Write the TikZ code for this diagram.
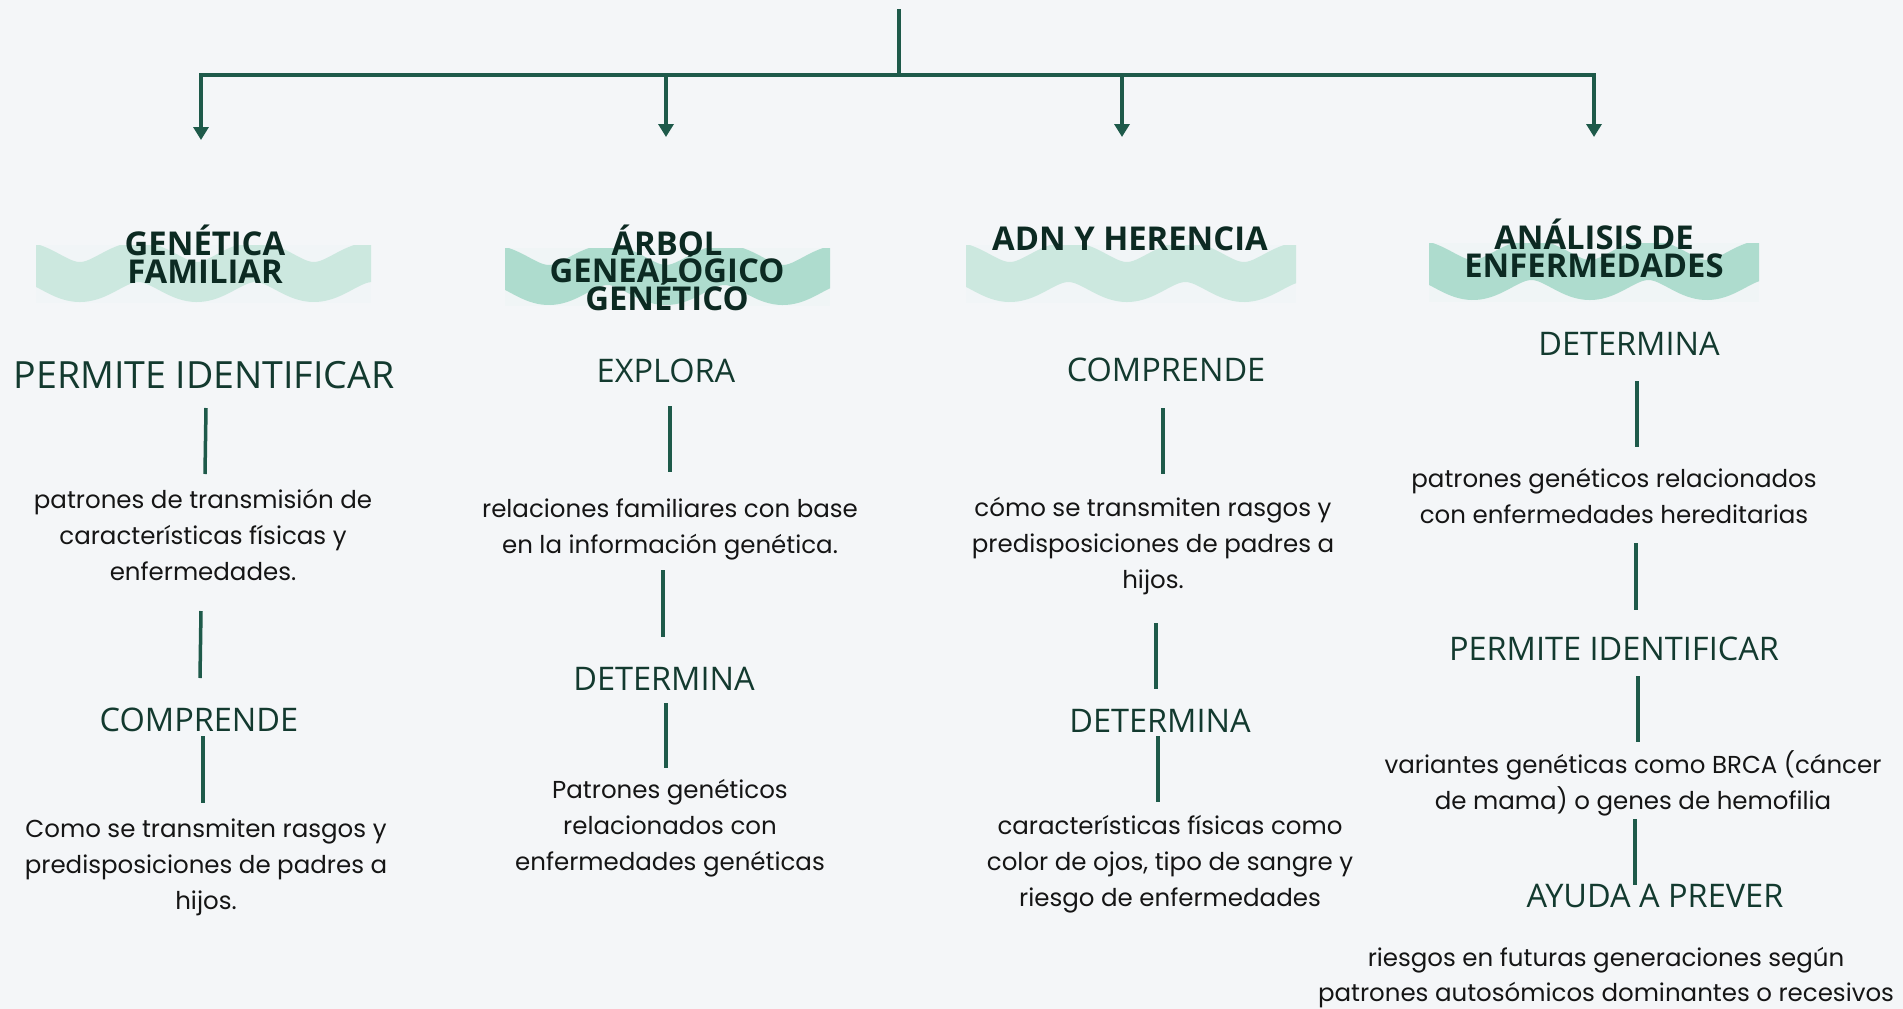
\documentclass[tikz,border=0pt]{standalone}
\usepackage{fontspec}
\setmainfont{Poppins}
\newfontfamily\osans{Open Sans}
\usetikzlibrary{arrows.meta}
\definecolor{bg}{HTML}{F4F6F8}
\definecolor{lnc}{HTML}{1E5A4A}
\definecolor{labc}{HTML}{133A2F}
\definecolor{hdc}{HTML}{0C2A22}
\definecolor{bodyc}{HTML}{151515}
\definecolor{wlight}{HTML}{CCE8DF}
\definecolor{wdark}{HTML}{AEDCCE}
\lineskiplimit=-100pt
\newcommand\wavebanner[5]{%
  \begin{scope}
    \clip (#1,#2) rectangle (#3,#4);
    \fill[#5!6!bg] (#1,#2) rectangle (#3,#4);
    \draw[#5, line width=40pt] plot[domain=#1-30:#3+30, samples=140, smooth]
      (\x, {#2+27 + 10*sin((\x-#1)*3.077 - 45)});
  \end{scope}}
\tikzset{
  conn/.style={draw=lnc, line width=3.5pt},
  bar/.style={draw=lnc, line width=4pt},
  arr/.style={draw=lnc, line width=4pt, -{Triangle[width=15pt,length=13pt]}},
  labtxt/.style={anchor=base, inner sep=0pt, text=labc, font=\osans\fontsize{32.5}{36}\selectfont},
  bodytxt/.style={anchor=base, inner sep=0pt, align=center, text=bodyc, font=\fontsize{24.5}{36}\selectfont},
  headtxt/.style={anchor=base, inner sep=0pt, align=center, text=hdc, font=\osans\bfseries\fontsize{32.8}{27.5}\selectfont},
}
\begin{document}
\begin{tikzpicture}[x=1pt, y=-1pt]
\fill[bg] (0,0) rectangle (1903,1009);
\useasboundingbox (0,0) rectangle (1903,1009);

% tree
\coordinate (root) at (899,9);
\coordinate (j) at (899,75);
\coordinate (h1) at (201,75);
\coordinate (h2) at (666,75);
\coordinate (h3) at (1122,75);
\coordinate (h4) at (1594,75);
\coordinate (t1) at (201,140);
\coordinate (t2) at (666,137);
\coordinate (t3) at (1122,137);
\coordinate (t4) at (1594,137);
\draw[conn] (root) -- (j);
\draw[bar, line cap=rect] (h1) -- (h4);
\draw[arr] (h1) -- (t1);
\draw[arr] (h2) -- (t2);
\draw[arr] (h3) -- (t3);
\draw[arr] (h4) -- (t4);

% banners
\wavebanner{36}{245}{371}{303}{wlight}
\wavebanner{505}{248}{830}{306}{wdark}
\wavebanner{966}{245}{1296}{303}{wlight}
\wavebanner{1429}{243}{1759}{302}{wdark}

% headings (anchor = baseline of last line)
\node[headtxt] (g1) at (205,283) {GENÉTICA\\FAMILIAR};
\node[headtxt] (g2) at (667,310) {ÁRBOL\\GENEALÓGICO\\GENÉTICO};
\node[headtxt] (g3) at (1130,250) {ADN Y HERENCIA};
\node[headtxt] (g4) at (1594,277) {ANÁLISIS DE\\ENFERMEDADES};

% column 1
\node[labtxt, font=\osans\fontsize{37.5}{40}\selectfont] (a1) at (204,388) {PERMITE IDENTIFICAR};
\node[bodytxt] (a2) at (203,580) {patrones de transmisión de\\características físicas y\\enfermedades.};
\node[labtxt] (a3) at (199,731) {COMPRENDE};
\node[bodytxt] (a4) at (206,909) {Como se transmiten rasgos y\\predisposiciones de padres a\\hijos.};
\coordinate (a1s) at (206,408); \coordinate (a1e) at (205,474);
\coordinate (a2s) at (201,611); \coordinate (a2e) at (200,678);
\coordinate (a3s) at (203,736); \coordinate (a3e) at (203,803);
\draw[conn] (a1s) -- (a1e);
\draw[conn] (a2s) -- (a2e);
\draw[conn] (a3s) -- (a3e);

% column 2
\node[labtxt] (b1) at (666,382) {EXPLORA};
\node[bodytxt] (b2) at (670,553) {relaciones familiares con base\\en la información genética.};
\node[labtxt] (b3) at (664,690) {DETERMINA};
\node[bodytxt] (b4) at (670,870) {Patrones genéticos\\relacionados con\\enfermedades genéticas};
\coordinate (b1s) at (670,406); \coordinate (b1e) at (670,472);
\coordinate (b2s) at (663,570); \coordinate (b2e) at (663,637);
\coordinate (b3s) at (666,703); \coordinate (b3e) at (666,768);
\draw[conn] (b1s) -- (b1e);
\draw[conn] (b2s) -- (b2e);
\draw[conn] (b3s) -- (b3e);

% column 3
\node[labtxt] (c1) at (1166,381) {COMPRENDE};
\node[bodytxt] (c2) at (1153,588) {cómo se transmiten rasgos y\\predisposiciones de padres a\\hijos.};
\node[labtxt] (c3) at (1160,732) {DETERMINA};
\node[bodytxt] (c4) at (1170,906) {características físicas como\\color de ojos, tipo de sangre y\\riesgo de enfermedades};
\coordinate (c1s) at (1163,408); \coordinate (c1e) at (1163,474);
\coordinate (c2s) at (1156,623); \coordinate (c2e) at (1156,689);
\coordinate (c3s) at (1158,736); \coordinate (c3e) at (1158,802);
\draw[conn] (c1s) -- (c1e);
\draw[conn] (c2s) -- (c2e);
\draw[conn] (c3s) -- (c3e);

% column 4
\node[labtxt] (d1) at (1629,355) {DETERMINA};
\node[bodytxt] (d2) at (1614,523) {patrones genéticos relacionados\\con enfermedades hereditarias};
\node[labtxt] (d3) at (1614,660) {PERMITE IDENTIFICAR};
\node[bodytxt] (d4) at (1633,809) {variantes genéticas como BRCA (cáncer\\de mama) o genes de hemofilia};
\node[labtxt] (d5) at (1655,907) {AYUDA A PREVER};
\node[bodytxt, font=\fontsize{24.5}{35}\selectfont] (d6) at (1606,1001) {riesgos en futuras generaciones según\\patrones autosómicos dominantes o recesivos};
\coordinate (d1s) at (1637,381); \coordinate (d1e) at (1637,447);
\coordinate (d2s) at (1636,543); \coordinate (d2e) at (1636,610);
\coordinate (d3s) at (1638,676); \coordinate (d3e) at (1638,742);
\coordinate (d4s) at (1635,819); \coordinate (d4e) at (1635,885);
\draw[conn] (d1s) -- (d1e);
\draw[conn] (d2s) -- (d2e);
\draw[conn] (d3s) -- (d3e);
\draw[conn] (d4s) -- (d4e);
\end{tikzpicture}
\end{document}
